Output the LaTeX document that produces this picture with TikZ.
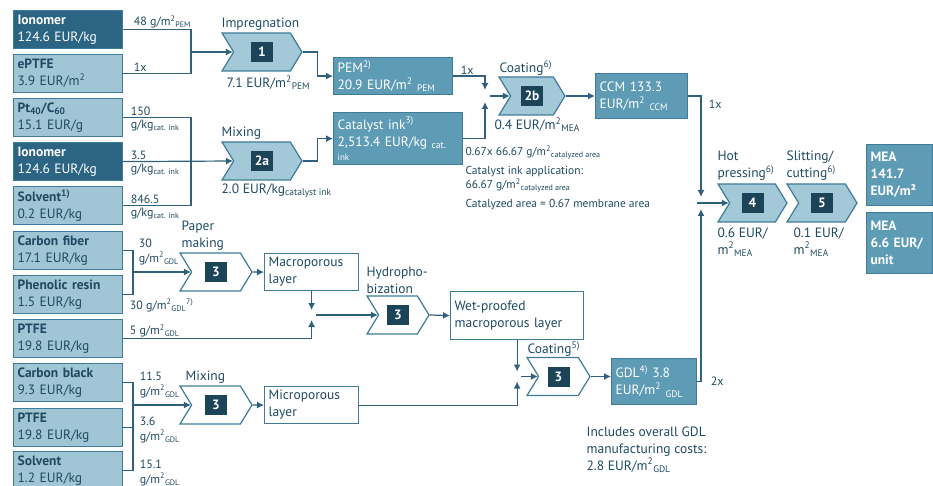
\documentclass[tikz,border=0pt]{standalone}
\usepackage{fontspec}
\setmainfont{PT Sans}
\usetikzlibrary{calc,positioning,shapes.symbols,arrows.meta}
\definecolor{dk}{HTML}{2C6484}
\definecolor{lt}{HTML}{A0C5D4}
\definecolor{md}{HTML}{5E9BB5}
\definecolor{edge}{HTML}{3E7C99}
\definecolor{chf}{HTML}{A3C8D7}
\definecolor{sq}{HTML}{1B4459}
\definecolor{ink}{HTML}{1F4A63}
\definecolor{ln}{HTML}{2F607D}
\newcommand\mainfs{\fontsize{13.5}{17}\selectfont}
\newcommand\lblfs{\fontsize{12}{15}\selectfont}
\newcommand\notefs{\fontsize{11.5}{14}\selectfont}
\newcommand\stepno[1]{{\setlength\fboxsep{0pt}\colorbox{sq}{\parbox[c][20pt][c]{22pt}{\centering\bfseries\color{white}#1}}}}
\newcommand\subtxt[1]{\textsubscript{#1}}
\newcommand\suptxt[1]{\textsuperscript{#1}}
\tikzset{
 base/.style={rectangle,draw=edge,line width=1.2pt,anchor=north west,inner xsep=4pt,inner ysep=1pt,align=left,font=\mainfs},
 mat/.style={base,fill=lt,text=ink,text width=101pt,minimum height=38pt},
 matd/.style={mat,fill=dk,text=white},
 res/.style={base,fill=md,text=white},
 blank/.style={base,fill=white,text=ink},
 chev/.style={signal,signal from=west,signal to=east,signal pointer angle=117,draw=edge,line width=1.2pt,fill=chf,minimum height=38pt,inner sep=0pt,font=\mainfs},
 chevw/.style={chev,fill=white},
 lbl/.style={font=\lblfs,text=ink,inner sep=1pt,align=left},
 steptxt/.style={font=\mainfs,text=ink,inner sep=1pt,align=left},
 arr/.style={-{Latex[length=7pt,width=7pt]}}
}
\begin{document}
\begin{tikzpicture}[x=1pt,y=-1pt,line width=1.2pt,draw=ln]
\useasboundingbox (0,0) rectangle (933,486);
% raw materials
\node[matd] (ionA) at (13,10) {\textbf{Ionomer}\\124.6 EUR/kg};
\node[mat] (eptfe) at (13,54) {\textbf{ePTFE}\\3.9 EUR/m\suptxt{2}};
\node[mat] (ptc) at (13,98) {\textbf{Pt\subtxt{40}/C\subtxt{60}}\\15.1 EUR/g};
\node[matd] (ionB) at (13,142) {\textbf{Ionomer}\\124.6 EUR/kg};
\node[mat] (solvA) at (13,186) {\textbf{Solvent\suptxt{1)}}\\0.2 EUR/kg};
\node[mat] (cfiber) at (13,231) {\textbf{Carbon fiber}\\17.1 EUR/kg};
\node[mat] (phenol) at (13,275) {\textbf{Phenolic resin}\\1.5 EUR/kg};
\node[mat] (ptfeA) at (13,319) {\textbf{PTFE}\\19.8 EUR/kg};
\node[mat] (cblack) at (13,363) {\textbf{Carbon black}\\9.3 EUR/kg};
\node[mat] (ptfeB) at (13,408) {\textbf{PTFE}\\19.8 EUR/kg};
\node[mat] (solvB) at (13,451) {\textbf{Solvent}\\1.2 EUR/kg};
% process steps
\node[chev,minimum width=80pt] (c1) at (262,52) {\stepno{1}};
\node[chev,minimum width=80pt] (c2a) at (262,161) {\stepno{2a}};
\node[chev,minimum width=66pt] (c2b) at (532,96) {\stepno{2b}};
\node[chev,minimum width=69pt] (c4) at (752.5,203) {\stepno{4}};
\node[chev,minimum width=70pt] (c5) at (822,203) {\stepno{5}};
\node[chevw,minimum width=72pt] (c3a) at (216,272) {\stepno{3}};
\node[chevw,minimum width=62pt] (c3b) at (398,315) {\stepno{3}};
\node[chevw,minimum width=63pt] (c3c) at (558.5,376.5) {\stepno{3}};
\node[chevw,minimum width=72pt] (c3d) at (216,405) {\stepno{3}};
% intermediate products
\node[res,text width=111pt,minimum height=37pt] (pem) at (333,57) {PEM\suptxt{2)}\\20.9 EUR/m\suptxt{2}\subtxt{ PEM}};
\node[res,text width=121pt,minimum height=52pt] (ink) at (333,112) {Catalyst ink\suptxt{3)}\\2,513.4 EUR/kg\subtxt{ cat.}\\[-3pt]{\fontsize{9}{10}\selectfont ink}};
\node[res,text width=84pt,minimum height=45pt] (ccm) at (595,73) {CCM 133.3\\EUR/m\suptxt{2}\subtxt{ CCM}};
\node[res,text width=77pt,minimum height=46pt] (gdl) at (611,358) {GDL\suptxt{4)} 3.8\\EUR/m\suptxt{2}\subtxt{ GDL}};
\node[res,text width=58pt,minimum height=61pt,font=\mainfs\bfseries] (meaA) at (866,144) {MEA\\141.7\\EUR/m²};
\node[res,text width=58pt,minimum height=61pt,font=\mainfs\bfseries] (meaB) at (866,212) {MEA\\6.6 EUR/\\unit};
\node[blank,text width=86pt,minimum height=37pt] (macro) at (264,253) {Macroporous\\layer};
\node[blank,text width=125pt,minimum height=48pt] (wet) at (450,291) {Wet-proofed\\macroporous layer};
\node[blank,text width=86pt,minimum height=37pt] (micro) at (264,386) {Microporous\\layer};
% junctions
\coordinate (j1) at (191,52);
\coordinate (j8) at (191,161);
\coordinate (j2) at (485,96);
\coordinate (j3) at (701,203);
\coordinate (j4) at (133,272);
\coordinate (j5) at (macro.south |- c3b.center);
\coordinate (j6) at (wet.south |- c3c.center);
\coordinate (j7) at (133,405);
% flows
\draw (ionA.east) -| (j1);
\draw (eptfe.east) -| (j1);
\draw[arr] (j1) -- (c1.west);
\draw[arr] (c1.east) -- ++(15,0) |- (pem.west);
\draw (ptc.east) -| (j8);
\draw (solvA.east) -| (j8);
\draw[arr] (ionB.east) -- (c2a.west);
\draw[arr] (c2a.east) -- ++(15,0) |- (ink.west);
\draw[arr] (pem.east) -| ($(j2)+(0,-6)$);
\draw[arr] (ink.east) -| ($(j2)+(0,6)$);
\draw[arr] ($(j2)+(5,0)$) -- (c2b.west);
\draw[arr] (c2b.east) -- (c2b.east -| ccm.west);
\draw[arr] (ccm.east) -| ($(j3)+(0,-6)$);
\draw[arr] (gdl.east) -| ($(j3)+(0,6)$);
\draw[arr] ($(j3)+(-4,0)$) -- (c4.west);
\draw (cfiber.east) -| (j4);
\draw (phenol.east) -| (j4);
\draw[arr] (j4) -- (c3a.west);
\draw[arr] (c3a.east) -- (macro.west);
\draw[arr] (macro.south) -- ($(j5)+(0,-5)$);
\draw[arr] (ptfeA.east) -| ($(j5)+(0,5)$);
\draw[arr] ($(j5)+(4,0)$) -- (c3b.west);
\draw[arr] (c3b.east) -- (wet.west);
\draw[arr] (wet.south) -- ($(j6)+(0,-5)$);
\draw[arr] (micro.east) -| ($(j6)+(0,5)$);
\draw[arr] ($(j6)+(4,0)$) -- (c3c.west);
\draw[arr] (c3c.east) -- (c3c.east -| gdl.west);
\draw (cblack.east) -| (j7);
\draw (ptfeB.east) -| (j7);
\draw (solvB.east) -| (j7);
\draw[arr] (j7) -- (c3d.west);
\draw[arr] (c3d.east) -- (micro.west);
% quantities
\node[lbl,anchor=south west] (q1) at ($(ionA.east)+(9,0)$) {48 g/m\suptxt{2}\subtxt{PEM}};
\node[lbl,anchor=south west] (q2) at ($(eptfe.east)+(9,0)$) {1x};
\node[lbl,anchor=south west] (q3) at ($(ptc.east)+(6,0)$) {150};
\node[lbl,anchor=north west] (q3u) at ($(ptc.east)+(6,1)$) {g/kg\subtxt{cat. ink}};
\node[lbl,anchor=south west] (q4) at ($(ionB.east)+(6,0)$) {3.5};
\node[lbl,anchor=north west] (q4u) at ($(ionB.east)+(6,1)$) {g/kg\subtxt{cat. ink}};
\node[lbl,anchor=south west] (q5) at ($(solvA.east)+(6,0)$) {846.5};
\node[lbl,anchor=north west] (q5u) at ($(solvA.east)+(6,1)$) {g/kg\subtxt{cat. ink}};
\node[lbl,anchor=south west] (q6) at ($(cfiber.east)+(14,-1)$) {30};
\node[lbl,anchor=north west] (q6u) at ($(cfiber.east)+(14,0)$) {g/m\suptxt{2}\subtxt{GDL}};
\node[lbl,anchor=north west] (q7) at ($(phenol.east)+(5,3)$) {30 g/m\suptxt{2}\subtxt{GDL}\suptxt{7)}};
\node[lbl,anchor=south west] (q8) at ($(ptfeA.east)+(5,0)$) {5 g/m\suptxt{2}\subtxt{GDL}};
\node[lbl,anchor=south west] (q9) at ($(cblack.east)+(15,0)$) {11.5};
\node[lbl,anchor=north west] (q9u) at ($(cblack.east)+(15,1)$) {g/m\suptxt{2}\subtxt{GDL}};
\node[lbl,anchor=south west] (q10) at ($(ptfeB.east)+(15,0)$) {3.6};
\node[lbl,anchor=north west] (q10u) at ($(ptfeB.east)+(15,1)$) {g/m\suptxt{2}\subtxt{GDL}};
\node[lbl,anchor=south west] (q11) at ($(solvB.east)+(15,0)$) {15.1};
\node[lbl,anchor=north west] (q11u) at ($(solvB.east)+(15,1)$) {g/m\suptxt{2}\subtxt{GDL}};
\node[lbl,anchor=south west] (q12) at ($(pem.east)+(6,0)$) {1x};
\node[lbl,anchor=west] (q13) at ($(ccm.east)+(19,8)$) {1x};
\node[lbl,anchor=west] (q14) at ($(gdl.east)+(12,0)$) {2x};
% step captions and costs
\node[steptxt,anchor=south west] (t1) at (220,32) {Impregnation};
\node[steptxt,anchor=north west] (k1) at (225,74) {7.1 EUR/m\suptxt{2}\subtxt{PEM}};
\node[steptxt,anchor=south west] (t2a) at (220,141) {Mixing};
\node[steptxt,anchor=north west] (k2a) at (220,182) {2.0 EUR/kg\subtxt{catalyst ink}};
\node[steptxt,anchor=south west] (t2b) at (498,77) {Coating\suptxt{6)}};
\node[steptxt,anchor=north west] (k2b) at (493,116) {0.4 EUR/m\suptxt{2}\subtxt{MEA}};
\node[lbl,font=\notefs,anchor=north west] (note2b) at (464,144) {0.67x 66.67 g/m\suptxt{2}\subtxt{catalyzed area}\\[5pt]Catalyst ink application:\\66.67 g/m\suptxt{2}\subtxt{catalyzed area}\\[5pt]Catalyzed area = 0.67 membrane area};
\node[steptxt,anchor=south west] (t4) at (716,182) {Hot\\pressing\suptxt{6)}};
\node[steptxt,anchor=south west] (t5) at (785,182) {Slitting/\\cutting\suptxt{6)}};
\node[steptxt,anchor=north west] (k4) at (716,226) {0.6 EUR/\\m\suptxt{2}\subtxt{MEA}};
\node[steptxt,anchor=north west] (k5) at (792,226) {0.1 EUR/\\m\suptxt{2}\subtxt{MEA}};
\node[steptxt,anchor=south west] (t3a) at (180,252) {Paper\\making};
\node[steptxt,anchor=south west] (t3b) at (365,295) {Hydropho-\\bization};
\node[steptxt,anchor=south west] (t3c) at (526,358) {Coating\suptxt{5)}};
\node[steptxt,anchor=south west] (t3d) at (184,385) {Mixing};
\node[steptxt,anchor=north west] (kgdl) at (585,425) {Includes overall GDL\\manufacturing costs:\\2.8 EUR/m\suptxt{2}\subtxt{GDL}};
\end{tikzpicture}
\end{document}
